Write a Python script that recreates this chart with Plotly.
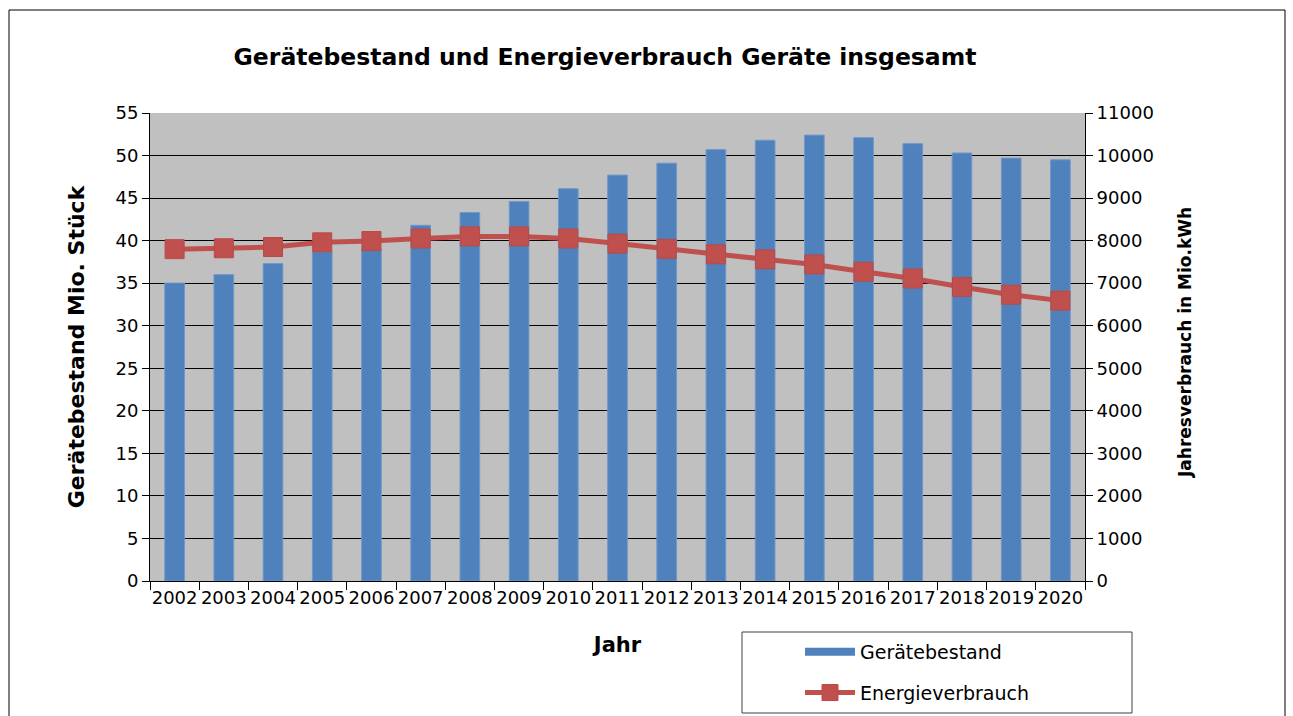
import plotly.graph_objects as go

years = [str(y) for y in range(2002, 2021)]
geraetebestand = [35.0, 36.0, 37.3, 38.7, 39.0, 41.8, 43.3, 44.6, 46.1, 47.7,
                  49.1, 50.7, 51.8, 52.4, 52.1, 51.4, 50.3, 49.7, 49.5]
energieverbrauch = [7800, 7820, 7850, 7960, 7990, 8050, 8100, 8100, 8050, 7930,
                    7810, 7680, 7560, 7440, 7270, 7110, 6910, 6730, 6590]

FONT = "DejaVu Sans, Liberation Sans, Arial, sans-serif"
BLUE = "#4F81BD"
RED = "#C0504D"
W, H = 1293, 716
L, R, T, B = 150, 1085, 113, 581
pw, ph = R - L, B - T

def px(x):
    return (x - L) / pw

def py(y):
    return (B - y) / ph

fig = go.Figure()
fig.add_trace(go.Bar(
    x=years, y=geraetebestand, name="Gerätebestand", showlegend=False,
    marker=dict(color=BLUE, line=dict(color="#6F98CC", width=1)),
    width=0.4, legendgroup="a", yaxis="y"))
# legend-only entry drawn as a thick bar-coloured swatch
fig.add_trace(go.Scatter(
    x=[None], y=[None], name="Gerätebestand", mode="lines",
    line=dict(color=BLUE, width=8), legendgroup="a", yaxis="y"))
fig.add_trace(go.Scatter(
    x=years, y=energieverbrauch, name="Energieverbrauch",
    mode="lines+markers", yaxis="y2", legendgroup="b",
    line=dict(color=RED, width=5),
    marker=dict(symbol="square", size=19, color=RED,
                line=dict(color="#B94A47", width=1))))

shapes = [
    dict(type="rect", xref="paper", yref="paper",
         x0=px(9), x1=px(1285), y0=py(740), y1=py(10),
         line=dict(color="black", width=1), fillcolor="rgba(0,0,0,0)", layer="below"),
    dict(type="rect", xref="paper", yref="paper",
         x0=px(742), x1=px(1132), y0=py(713), y1=py(632),
         line=dict(color="#404040", width=1), fillcolor="white", layer="below"),
]

annotations = [
    dict(text="<b>Jahresverbrauch in Mio.kWh</b>", textangle=-90,
         xref="paper", x=px(1185), xanchor="center",
         yref="paper", y=py(343), yanchor="middle", showarrow=False,
         font=dict(family=FONT, size=17, color="black")),
]

fig.update_layout(
    width=W, height=H,
    margin=dict(l=L, r=W - R, t=T, b=H - B, autoexpand=False),
    paper_bgcolor="white", plot_bgcolor="#C0C0C0",
    font=dict(family=FONT, size=18, color="black"),
    title=dict(text="<b>Gerätebestand und Energieverbrauch Geräte insgesamt</b>",
               font=dict(family=FONT, size=23.5, color="black"),
               xref="container", x=605 / W, xanchor="center",
               yref="container", y=1 - 57 / H, yanchor="middle"),
    showlegend=True,
    legend=dict(xref="container", yref="container",
                x=800 / W, y=1 - 633 / H, xanchor="left", yanchor="top",
                bgcolor="rgba(0,0,0,0)", borderwidth=0,
                font=dict(family=FONT, size=19, color="black"),
                tracegroupgap=13, itemwidth=50),
    xaxis=dict(type="category", range=[-0.5, 18.5], showgrid=False, showline=True,
               linecolor="black", linewidth=1, ticks="outside", tickson="boundaries",
               ticklen=8, tickcolor="black", tickfont=dict(size=18), tickangle=0,
               automargin=True,
               title=dict(text="<b>Jahr</b>", font=dict(size=21), standoff=30)),
    yaxis=dict(range=[0, 55], dtick=5, showgrid=True, gridcolor="black", gridwidth=1,
               showline=True, linecolor="black", linewidth=1, ticks="outside",
               ticklen=7, tickcolor="black", tickfont=dict(size=18), zeroline=False,
               automargin=True,
               title=dict(text="<b>Gerätebestand Mio. Stück</b>", font=dict(size=22),
                          standoff=24)),
    yaxis2=dict(range=[0, 11000], dtick=1000, tickformat="d", overlaying="y",
                side="right", showgrid=False, showline=True, linecolor="black",
                linewidth=1, ticks="outside", ticklen=7, tickcolor="black",
                tickfont=dict(size=18), zeroline=False, automargin=True),
    shapes=shapes,
    annotations=annotations,
)

fig.write_html("out.html", config={"displayModeBar": False},
               post_script="document.body.style.margin='0';"
                           "document.body.style.overflow='hidden';")
